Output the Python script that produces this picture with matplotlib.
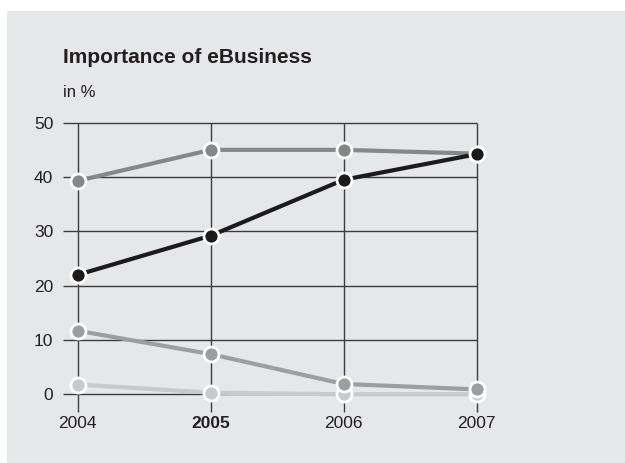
import matplotlib
matplotlib.use("Agg")
import matplotlib.pyplot as plt
from matplotlib.patches import Rectangle

years = [2004, 2005, 2006, 2007]
series_dark = [39.3, 45, 45, 44.3]
series_black = [22, 29.2, 39.5, 44.2]
series_mid = [11.7, 7.4, 1.9, 0.9]
series_light = [1.8, 0.3, 0, 0]
yticks = [0, 10, 20, 30, 40, 50]

plt.rcParams["font.family"] = ["Liberation Sans", "DejaVu Sans"]

fig = plt.figure(figsize=(6.25, 4.63), dpi=100)
fig.patch.set_facecolor("white")
fig.patches.append(Rectangle((7 / 625, 0), 1, 1 - 11 / 463, transform=fig.transFigure,
                             facecolor="#e6e7e8", edgecolor="none", zorder=-5))

ax = fig.add_axes([63 / 625, 1 - 411.7 / 463, (476.7 - 63) / 625, (411.7 - 122.7) / 463])
ax.set_facecolor("none")
x0 = 2004 - 14.7 / 133
ymin = -17.4 / 5.43
ax.set_xlim(x0, 2007)
ax.set_ylim(ymin, 50)

grid = "#3c3c3c"
ax.hlines(yticks, x0, 2007, color=grid, lw=1, zorder=1, clip_on=False)
ax.vlines(years, ymin, 50, color=grid, lw=1, zorder=1, clip_on=False)

styles = [
    (series_light, "#c8c9ca"),
    (series_mid, "#9d9e9f"),
    (series_dark, "#868788"),
    (series_black, "#1c1a1a"),
]
for i, (vals, col) in enumerate(styles):
    ax.plot(years, vals, color=col, lw=3, marker="o", markersize=10.8,
            markerfacecolor=col, markeredgecolor="white", markeredgewidth=2,
            clip_on=False, zorder=3 + i, solid_capstyle="round")

for s in ax.spines.values():
    s.set_visible(False)
ax.set_xticks(years)
ax.set_xticklabels([str(y) for y in years])
ax.set_yticks(yticks)
ax.tick_params(length=0, labelsize=12.5, colors="#231f20")
ax.tick_params(axis="y", pad=7)
ax.tick_params(axis="x", pad=3)
ax.get_xticklabels()[1].set_fontweight("bold")

fig.text(63 / 625, 1 - 63 / 463, "Importance of eBusiness", fontsize=15,
         fontweight="bold", color="#231f20", va="baseline")
fig.text(63 / 625, 1 - 97 / 463, "in %", fontsize=12, color="#231f20", va="baseline")

fig.savefig("out.png", dpi=100)
